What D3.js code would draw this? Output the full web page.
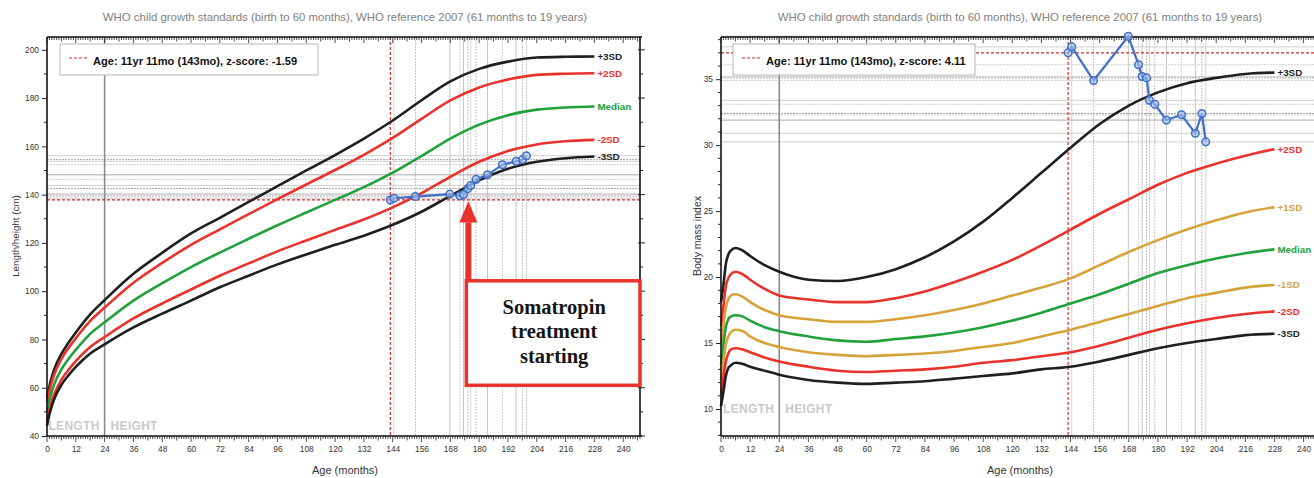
<!DOCTYPE html>
<html><head><meta charset="utf-8">
<script src="https://cdn.jsdelivr.net/npm/d3@7"></script>
<style>
html,body{margin:0;padding:0;background:#fff;}
svg{display:block;font-family:"Liberation Sans",Arial,sans-serif;}
</style></head>
<body>
<script>
// ---------------- DATA ----------------
const chartTitle = "WHO child growth standards (birth to 60 months), WHO reference 2007 (61 months to 19 years)";
const ageTickLabels = [0,12,24,36,48,60,72,84,96,108,120,132,144,156,168,180,192,204,216,228,240];
const heightTickLabels = [40,60,80,100,120,140,160,180,200];
const bmiTickLabels = [10,15,20,25,30,35];

// WHO height-for-age (boys)
const heightAges = [0,1,2,3,6,9,12,18,24,36,48,60,72,84,96,108,120,132,144,156,168,180,192,204,216,228];
const heightP3SD = [55.6,60.6,64.4,67.6,74.0,78.7,82.9,90.4,96.3,107.2,115.9,123.9,130.4,137.0,143.5,150.0,156.4,163.2,170.7,179.1,186.9,192.1,195.1,196.8,197.1,197.2];
const heightP2SD = [53.7,58.6,62.4,65.5,71.9,76.5,80.5,87.7,93.2,103.5,111.7,119.2,125.6,131.9,138.1,144.2,150.2,156.5,163.5,171.4,179.0,184.4,187.7,189.6,190.1,190.3];
const heightMedian = [49.9,54.7,58.4,61.4,67.6,72.0,75.7,82.3,87.1,96.1,103.3,110.0,116.0,121.7,127.3,132.6,137.8,143.1,149.1,156.0,163.2,169.0,172.9,175.2,176.1,176.5];
const heightM2SD = [46.1,50.8,54.4,57.3,63.3,67.5,71.0,76.9,81.0,88.7,94.9,100.7,106.4,111.5,116.5,121.0,125.4,129.7,134.7,140.6,147.4,153.6,158.1,160.8,162.1,162.7];
const heightM3SD = [44.2,48.9,52.4,55.3,61.2,65.2,68.6,74.2,78.0,85.0,90.7,96.1,101.6,106.4,111.1,115.2,119.2,123.0,127.5,132.9,139.5,145.9,150.7,153.6,155.1,155.8];

// WHO BMI-for-age (boys)
const bmiAges = [0,1,2,3,4,6,9,12,18,24,36,48,60,72,84,96,108,120,132,144,156,168,180,192,204,216,228];
const bmiP3SD = [18.1,19.4,21.0,21.7,22.0,22.2,22.0,21.6,20.9,20.4,19.8,19.7,20.0,20.6,21.5,22.7,24.2,26.0,27.9,29.8,31.6,33.0,34.0,34.7,35.1,35.4,35.5];
const bmiP2SD = [16.3,17.8,19.3,19.9,20.2,20.4,20.2,19.8,19.1,18.6,18.3,18.1,18.1,18.4,18.9,19.6,20.4,21.3,22.4,23.6,24.8,25.9,27.0,27.9,28.6,29.2,29.7];
const bmiP1SD = [14.8,16.3,17.7,18.3,18.6,18.7,18.5,18.1,17.5,17.1,16.8,16.6,16.6,16.8,17.1,17.5,18.0,18.6,19.2,19.9,20.9,21.9,22.8,23.6,24.3,24.9,25.3];
const bmiMedian = [13.4,14.9,16.2,16.8,17.0,17.1,17.0,16.7,16.2,15.9,15.5,15.2,15.1,15.3,15.5,15.8,16.2,16.7,17.3,18.0,18.7,19.5,20.3,20.9,21.4,21.8,22.1];
const bmiM1SD = [12.2,13.6,14.9,15.5,15.8,16.0,15.9,15.5,15.0,14.7,14.3,14.1,14.0,14.1,14.2,14.4,14.7,15.0,15.5,16.0,16.6,17.2,17.8,18.4,18.8,19.2,19.4];
const bmiM2SD = [11.1,12.4,13.6,14.2,14.5,14.6,14.5,14.3,13.9,13.6,13.2,12.9,12.8,12.9,13.0,13.2,13.5,13.7,14.0,14.3,14.8,15.4,16.0,16.5,16.9,17.2,17.4];
const bmiM3SD = [10.2,11.3,12.5,13.1,13.3,13.5,13.4,13.2,12.9,12.6,12.2,12.0,11.9,12.0,12.1,12.3,12.5,12.7,13.0,13.2,13.6,14.1,14.6,15.0,15.3,15.6,15.7];

// Patient visits
const visitAges = [143,144.5,153.5,167.8,172,173.5,175.3,176.5,178.7,183.5,189.7,195.4,198.1,199.7];
const visitHeights = [137.8,138.5,139.2,140.2,139.5,140.0,142.5,143.8,146.3,148.2,152.4,153.8,154.5,156.1];
const visitBmi = [37.0,37.45,34.9,38.25,36.1,35.2,35.1,33.4,33.1,31.9,32.3,30.9,32.4,30.25];

const heightLegendText = "Age: 11yr 11mo (143mo), z-score: -1.59";
const bmiLegendText = "Age: 11yr 11mo (143mo), z-score: 4.11";
const annotationLines = ["Somatropin","treatment","starting"];
const treatmentAge = 175.5;

// ---------------- DRAW ----------------
const W = 1314, H = 478;
const svg = d3.select("body").append("svg").attr("width", W).attr("height", H);
svg.append("rect").attr("width", W).attr("height", H).attr("fill", "#fff");

const BLACK = "#1f1f1f", RED = "#e8322b", GREEN = "#22a03c", GOLD = "#d6a23a", BLUE = "#3f6fc8";

function panel(o) {
  const g = svg.append("g");
  const x = d3.scaleLinear().domain(o.xDomain).range(o.xRange);
  const y = d3.scaleLinear().domain(o.yDomain).range([436, 37]);
  const [x0, x1] = o.xRange, y0 = 436, y1 = 37;

  // title
  g.append("text").attr("x", o.titleX).attr("y", 21).attr("text-anchor", "middle")
    .attr("font-size", 11.4).attr("fill", "#808080").text(chartTitle);

  // measurement grid lines
  visitAges.forEach((a, i) => {
    if (i === 0) return;
    g.append("line").attr("x1", x(a)).attr("x2", x(a)).attr("y1", y1).attr("y2", y0)
      .attr("stroke", i % 3 === 1 ? "#d4d4d4" : "#c4c4c4").attr("stroke-width", 1)
      .attr("stroke-dasharray", i % 2 ? null : "2,1");
  });
  o.values.forEach((v, i) => {
    if (i === 0) return;
    g.append("line").attr("x1", x0).attr("x2", x1).attr("y1", y(v)).attr("y2", y(v))
      .attr("stroke", i % 3 === 0 ? "#a8a8a8" : "#cfcfcf").attr("stroke-width", 1)
      .attr("stroke-dasharray", i % 2 ? null : "2,1");
  });
  // 24-month line
  g.append("line").attr("x1", x(24)).attr("x2", x(24)).attr("y1", y1).attr("y2", y0)
    .attr("stroke", "#8a8a8a").attr("stroke-width", 1.6);
  // red crosshair at first visit
  g.append("line").attr("x1", x(visitAges[0])).attr("x2", x(visitAges[0])).attr("y1", y1).attr("y2", y0)
    .attr("stroke", "#d42a2a").attr("stroke-width", 1.2).attr("stroke-dasharray", "3,2");
  g.append("line").attr("x1", x0).attr("x2", x1).attr("y1", y(o.values[0])).attr("y2", y(o.values[0]))
    .attr("stroke", "#d42a2a").attr("stroke-width", 1.2).attr("stroke-dasharray", "3,2");

  // LENGTH / HEIGHT labels
  g.append("text").attr("x", x(24) - 5).attr("y", o.lhY).attr("text-anchor", "end")
    .attr("font-size", 12).attr("letter-spacing", 0.3).attr("font-weight", "bold").attr("fill", "#cacaca").text("LENGTH");
  g.append("text").attr("x", x(24) + 6).attr("y", o.lhY)
    .attr("font-size", 12).attr("letter-spacing", 0.3).attr("font-weight", "bold").attr("fill", "#cacaca").text("HEIGHT");

  // reference curves
  const line = d3.line().x((d, i) => x(o.curveAges[i])).y(d => y(d)).curve(d3.curveMonotoneX);
  o.curves.forEach(c => {
    g.append("path").attr("d", line(c.v)).attr("fill", "none").attr("stroke", c.color)
      .attr("stroke-width", 2.6);
    g.append("text").attr("x", x(o.curveAges[o.curveAges.length - 1]) + 3)
      .attr("y", y(c.v[c.v.length - 1]) + 3.5).attr("font-size", 9.8).attr("font-weight", "bold")
      .attr("fill", c.color).text(c.label);
  });

  // frame
  g.append("line").attr("x1", x0).attr("x2", x1 + 2).attr("y1", y1).attr("y2", y1).attr("stroke", "#111").attr("stroke-width", 1.6);
  g.append("line").attr("x1", x0).attr("x2", x1 + 2).attr("y1", y0).attr("y2", y0).attr("stroke", "#111").attr("stroke-width", 1.6);
  g.append("line").attr("x1", x0).attr("x2", x0).attr("y1", y1).attr("y2", y0).attr("stroke", "#111").attr("stroke-width", 1.6);
  if (o.rightBorder) g.append("line").attr("x1", x1).attr("x2", x1).attr("y1", y1).attr("y2", y0).attr("stroke", "#111").attr("stroke-width", 1.6);

  // ruler ticks (every month)
  const months = d3.range(0, Math.floor(o.xDomain[1]) + 1);
  g.selectAll(null).data(months).join("line")
    .attr("x1", d => x(d)).attr("x2", d => x(d)).attr("y1", y0).attr("y2", d => y0 + (d % 12 === 0 ? 6 : d % 6 === 0 ? 4.5 : 3))
    .attr("stroke", "#222").attr("stroke-width", 0.8);
  g.selectAll(null).data(months).join("line")
    .attr("x1", d => x(d)).attr("x2", d => x(d)).attr("y1", y1).attr("y2", d => y1 + (d % 12 === 0 ? 6 : d % 6 === 0 ? 4.5 : 3))
    .attr("stroke", "#222").attr("stroke-width", 0.8);

  // x axis labels
  const xAxis = d3.axisBottom(x).tickValues(ageTickLabels).tickSize(0).tickPadding(10);
  const xa = g.append("g").attr("transform", `translate(0,${y0})`).call(xAxis);
  xa.select(".domain").remove();
  xa.selectAll("text").attr("font-size", 8.4).attr("fill", "#333").attr("font-family", "Liberation Sans, Arial, sans-serif");
  g.append("text").attr("x", o.xTitleX).attr("y", 474).attr("text-anchor", "middle")
    .attr("font-size", 11).attr("fill", "#333").text("Age (months)");

  // y axis
  const yAxis = d3.axisLeft(y).tickValues(o.yTicks).tickSize(5).tickPadding(3);
  const ya = g.append("g").attr("transform", `translate(${x0},0)`).call(yAxis);
  ya.select(".domain").remove();
  ya.selectAll("line").attr("stroke", "#222");
  ya.selectAll("text").attr("font-size", 8.4).attr("fill", "#333").attr("font-family", "Liberation Sans, Arial, sans-serif");
  g.selectAll(null).data(o.yMinor).join("line")
    .attr("x1", x0 - 3).attr("x2", x0).attr("y1", d => y(d)).attr("y2", d => y(d)).attr("stroke", "#222");
  if (o.rightBorder) {
    g.selectAll(null).data(o.yTicks).join("line")
      .attr("x1", x1 - 2).attr("x2", x1 + 5).attr("y1", d => y(d)).attr("y2", d => y(d)).attr("stroke", "#222");
    g.selectAll(null).data(o.yMinor).join("line")
      .attr("x1", x1).attr("x2", x1 + 3).attr("y1", d => y(d)).attr("y2", d => y(d)).attr("stroke", "#222");
  }
  g.append("text").attr("transform", `translate(${o.yTitleX},${o.yTitleY}) rotate(-90)`)
    .attr("text-anchor", "middle").attr("font-size", o.yTitleSize).attr("fill", "#333").text(o.yTitle);

  // patient data
  const dl = d3.line().x((d, i) => x(visitAges[i])).y(d => y(d));
  g.append("path").attr("d", dl(o.values)).attr("fill", "none").attr("stroke", BLUE).attr("stroke-width", 2.2);
  g.selectAll(null).data(o.values).join("circle")
    .attr("cx", (d, i) => x(visitAges[i])).attr("cy", d => y(d)).attr("r", 3.8)
    .attr("fill", "#a9c1ea").attr("fill-opacity", 0.6).attr("stroke", BLUE).attr("stroke-width", 1.5);

  // legend
  const lg = g.append("g");
  lg.append("rect").attr("x", o.legend.x).attr("y", 44).attr("width", o.legend.w).attr("height", 31)
    .attr("fill", "#fff").attr("stroke", "#b5b5b5").attr("stroke-width", 1);
  lg.append("line").attr("x1", o.legend.x + 9).attr("x2", o.legend.x + 27).attr("y1", 58).attr("y2", 58)
    .attr("stroke", "#d42a2a").attr("stroke-width", 1.2).attr("stroke-dasharray", "3,2");
  lg.append("text").attr("x", o.legend.x + 33).attr("y", 65).attr("font-size", 11.1).attr("font-weight", "bold")
    .attr("fill", "#111").text(o.legend.text);

  return {x, y, g};
}

const left = panel({
  xDomain: [0, 247], xRange: [47, 640], yDomain: [40, 205.3],
  titleX: 345, xTitleX: 345, yTitleX: 19, yTitleY: 236, yTitle: "Length/height (cm)", yTitleSize: 9.8,
  yTicks: heightTickLabels, yMinor: [50,70,90,110,130,150,170,190],
  lhY: 430, rightBorder: true,
  curveAges: heightAges,
  curves: [
    {v: heightP3SD, color: BLACK, label: "+3SD"},
    {v: heightP2SD, color: RED, label: "+2SD"},
    {v: heightMedian, color: GREEN, label: "Median"},
    {v: heightM2SD, color: RED, label: "-2SD"},
    {v: heightM3SD, color: BLACK, label: "-3SD"}
  ],
  values: visitHeights,
  legend: {x: 60, w: 258, text: heightLegendText}
});

const right = panel({
  xDomain: [0, 248], xRange: [721, 1323], yDomain: [7.95, 38.2],
  titleX: 1020, xTitleX: 1020, yTitleX: 701, yTitleY: 236, yTitle: "Body mass index", yTitleSize: 10.5,
  yTicks: bmiTickLabels, yMinor: d3.range(8, 39).filter(d => d % 5 !== 0),
  lhY: 413, rightBorder: false,
  curveAges: bmiAges,
  curves: [
    {v: bmiP3SD, color: BLACK, label: "+3SD"},
    {v: bmiP2SD, color: RED, label: "+2SD"},
    {v: bmiP1SD, color: GOLD, label: "+1SD"},
    {v: bmiMedian, color: GREEN, label: "Median"},
    {v: bmiM1SD, color: GOLD, label: "-1SD"},
    {v: bmiM2SD, color: RED, label: "-2SD"},
    {v: bmiM3SD, color: BLACK, label: "-3SD"}
  ],
  values: visitBmi,
  legend: {x: 733, w: 242, text: bmiLegendText}
});

// annotation on the height chart
(function() {
  const {x, y, g} = left;
  const ax = x(treatmentAge), tipY = y(137.3), baseY = y(128.5), boxTop = y(104.3), boxBot = y(61);
  g.append("line").attr("x1", ax).attr("x2", ax).attr("y1", baseY).attr("y2", boxTop)
    .attr("stroke", RED).attr("stroke-width", 6);
  g.append("path").attr("d", `M${ax},${tipY} L${ax - 9},${baseY} L${ax + 9},${baseY} Z`).attr("fill", RED);
  g.append("rect").attr("x", ax - 2).attr("y", boxTop).attr("width", x(247) - ax + 2).attr("height", boxBot - boxTop)
    .attr("fill", "#fff").attr("stroke", RED).attr("stroke-width", 3.5);
  const cx = (ax + x(247)) / 2;
  annotationLines.forEach((t, i) => {
    g.append("text").attr("x", cx).attr("y", boxTop + 33 + i * 24.5).attr("text-anchor", "middle")
      .attr("font-family", "Liberation Serif, Times New Roman, serif").attr("font-size", 20.5)
      .attr("font-weight", "bold").attr("fill", "#151515").text(t);
  });
})();
</script>
</body></html>
